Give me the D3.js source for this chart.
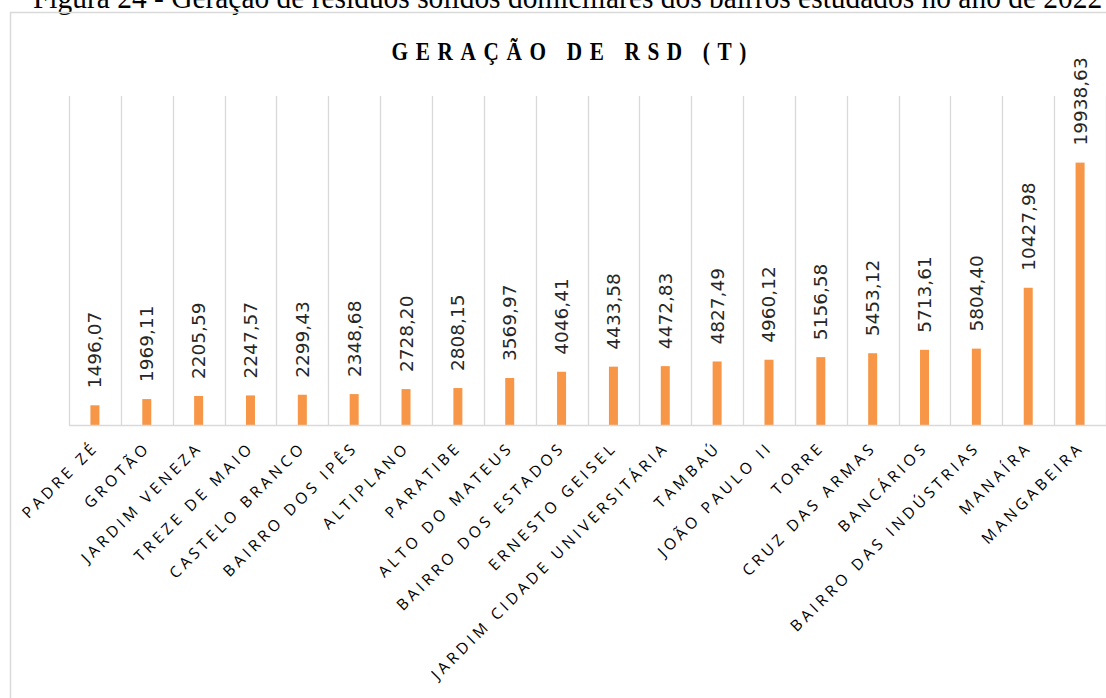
<!DOCTYPE html>
<html>
<head>
<meta charset="utf-8">
<script src="https://cdn.jsdelivr.net/npm/d3@7"></script>
<style>
    body { margin: 0; background: #fff; }
    svg { display: block; }
</style>
</head>
<body>
<svg id="chart" width="1106" height="698"></svg>
<script>
var bairros = ["PADRE ZÉ", "GROTÃO", "JARDIM VENEZA", "TREZE DE MAIO", "CASTELO BRANCO",
    "BAIRRO DOS IPÊS", "ALTIPLANO", "PARATIBE", "ALTO DO MATEUS", "BAIRRO DOS ESTADOS",
    "ERNESTO GEISEL", "JARDIM CIDADE UNIVERSITÁRIA", "TAMBAÚ", "JOÃO PAULO II", "TORRE",
    "CRUZ DAS ARMAS", "BANCÁRIOS", "BAIRRO DAS INDÚSTRIAS", "MANAÍRA", "MANGABEIRA"];
var geracao = [1496.07, 1969.11, 2205.59, 2247.57, 2299.43,
    2348.68, 2728.20, 2808.15, 3569.97, 4046.41,
    4433.58, 4472.83, 4827.49, 4960.12, 5156.58,
    5453.12, 5713.61, 5804.40, 10427.98, 19938.63];
var yMax = 25000;

var caption = "Figura 24 - Geração de resíduos sólidos domiciliares dos bairros estudados no ano de 2022";
var title = "GERAÇÃO DE RSD (T)";

var svg = d3.select("#chart");

// caption above the chart box (cut off at the top like the source)
svg.append("text")
    .attr("transform", "translate(33,8) scale(0.95,1)")
    .style("font-family", "'Liberation Serif', 'Times New Roman', serif")
    .style("font-size", "31px")
    .style("fill", "#000")
    .text(caption);

// chart frame
svg.append("rect")
    .attr("x", 10.5)
    .attr("y", 12.5)
    .attr("width", 1200)
    .attr("height", 800)
    .style("fill", "none")
    .style("stroke", "#d9d9d9")
    .style("stroke-width", 1.5);

// title, a little condensed with wide tracking
svg.append("text")
    .attr("transform", "translate(569,60) scale(0.85,1)")
    .attr("text-anchor", "middle")
    .attr("dx", 4.5)
    .style("font-family", "'Liberation Serif', 'Times New Roman', serif")
    .style("font-weight", "bold")
    .style("font-size", "25px")
    .style("letter-spacing", "9px")
    .style("fill", "#000")
    .text(title);

var data = bairros.map(function(d, i) { return { bairro: d, valor: geracao[i] }; });

var x = d3.scaleBand()
    .domain(bairros)
    .range([69, 1106])
    .padding(0);

var y = d3.scaleLinear()
    .domain([0, yMax])
    .range([425, 96]);

// vertical gridlines at category boundaries
var bounds = bairros.map(function(d) { return x(d); }).concat([x.range()[1]]);
svg.selectAll(".grid")
    .data(bounds)
    .enter().append("line")
    .attr("class", "grid")
    .attr("x1", function(d) { return Math.round(d) + 0.5; })
    .attr("x2", function(d) { return Math.round(d) + 0.5; })
    .attr("y1", y(yMax))
    .attr("y2", y(0))
    .style("stroke", "#d9d9d9")
    .style("stroke-width", 1.3);

var barW = 9;
svg.selectAll(".bar")
    .data(data)
    .enter().append("rect")
    .attr("class", "bar")
    .attr("x", function(d) { return x(d.bairro) + x.bandwidth() / 2 - barW / 2; })
    .attr("y", function(d) { return y(d.valor); })
    .attr("width", barW)
    .attr("height", function(d) { return y(0) - y(d.valor); })
    .style("fill", "#f79646");

// category axis line
svg.append("line")
    .attr("x1", x.range()[0])
    .attr("x2", x.range()[1])
    .attr("y1", y(0) + 0.5)
    .attr("y2", y(0) + 0.5)
    .style("stroke", "#d9d9d9")
    .style("stroke-width", 1.5);

// value labels, rotated
var fmt = function(v) { return v.toFixed(2).replace(".", ","); };
svg.selectAll(".val")
    .data(data)
    .enter().append("text")
    .attr("class", "val")
    .attr("transform", function(d) {
        var cx = x(d.bairro) + x.bandwidth() / 2 + 6.5;
        var cy = y(d.valor) - 17;
        return "translate(" + cx + "," + cy + ") rotate(-90)";
    })
    .style("font-family", "'DejaVu Sans', sans-serif")
    .style("font-size", "18.5px")
    .style("fill", "#262626")
    .text(function(d) { return fmt(d.valor); });

// category labels at -45 degrees
svg.selectAll(".cat")
    .data(data)
    .enter().append("text")
    .attr("class", "cat")
    .attr("text-anchor", "end")
    .attr("transform", function(d) {
        var cx = x(d.bairro) + x.bandwidth() / 2 + 2;
        return "translate(" + cx + ",451) rotate(-45)";
    })
    .attr("dx", 3.8)
    .style("font-family", "'Open Sans', sans-serif")
    .style("font-size", "15.5px")
    .style("letter-spacing", "3.8px")
    .style("fill", "#000")
    .text(function(d) { return d.bairro; });
</script>
</body>
</html>
